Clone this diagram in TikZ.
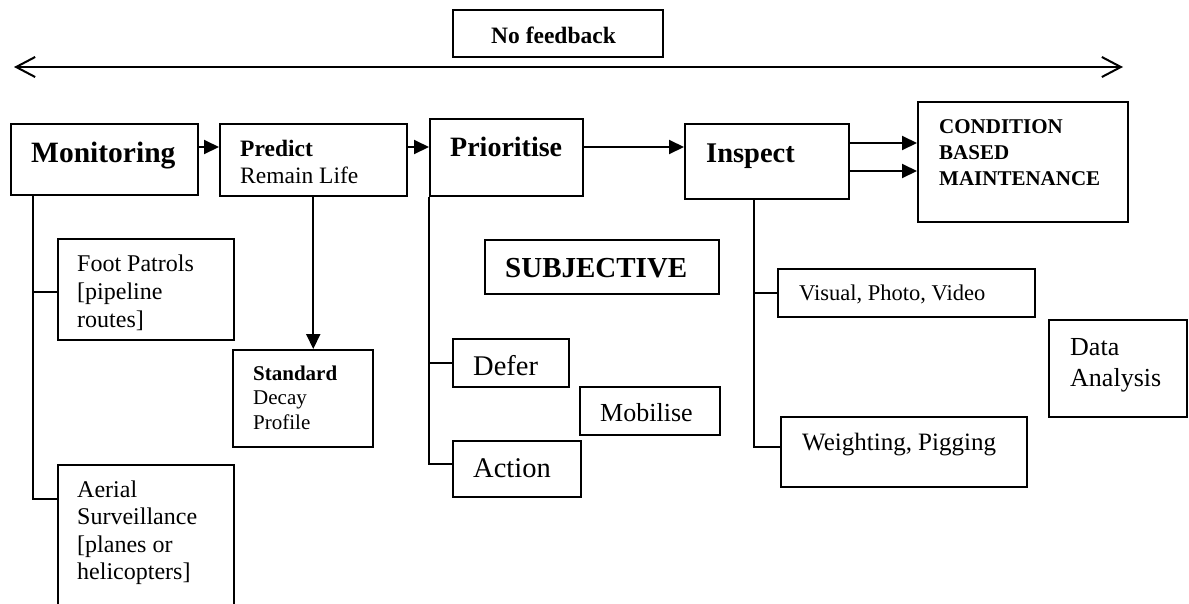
\documentclass[tikz,border=0pt]{standalone}
\usepackage{fontspec}
\setmainfont{Liberation Serif}
\usetikzlibrary{arrows.meta}

\newcommand{\fs}[2]{\fontsize{#1}{#2}\selectfont}
\newcommand{\lines}[1]{\parbox[t]{220pt}{\raggedright #1}}

\begin{document}
\begin{tikzpicture}[x=1pt, y=-1pt,
  frame/.style={draw, line width=1.5pt, inner sep=0pt, anchor=north west},
  txt/.style={anchor=base west, inner sep=0pt},
  arr/.style={line width=2pt, -{Triangle[length=15pt,width=14pt]}},
  treeline/.style={line width=1.5pt},
  feedback/.style={line width=2pt,
    {Straight Barb[length=19pt,width=20pt,line width=2pt]}-{Straight Barb[length=19pt,width=20pt,line width=2pt]}}]

\fill[white] (0,0) rectangle (1189,603);
\useasboundingbox (0,0) rectangle (1189,603);

% feedback banner and double arrow
\node[frame, minimum width=210pt, minimum height=47pt] (nofb) at (452,9) {};
\node[txt, font=\fs{23.5}{27}\bfseries] (nofbT) at (491,43) {No feedback};
\coordinate (fbL) at (14,67);
\coordinate (fbR) at (1123,67);
\draw[feedback] (fbL) -- (fbR);

% main chain
\node[frame, minimum width=187pt, minimum height=71pt] (mon) at (10,123) {};
\node[txt, font=\fs{29.5}{34}\bfseries] (monT) at (31,162) {Monitoring};

\node[frame, minimum width=187pt, minimum height=72pt] (pred) at (219,123) {};
\node[txt] (predT) at (240,156) {\lines{\fs{23.5}{27}\textbf{Predict}\\Remain Life}};

\node[frame, minimum width=153pt, minimum height=77pt] (prio) at (429,118) {};
\node[txt, font=\fs{28}{32}\bfseries] (prioT) at (450,156) {Prioritise};

\node[frame, minimum width=164pt, minimum height=75pt] (insp) at (684,123) {};
\node[txt, font=\fs{28.5}{32}\bfseries] (inspT) at (706,162) {Inspect};

\node[frame, minimum width=210pt, minimum height=120pt] (cbm) at (917,101) {};
\node[txt] (cbmT) at (939,133) {\lines{\fs{21}{26}\bfseries CONDITION\\BASED\\MAINTENANCE}};

\draw[arr] (mon.east |- 0,147) -- (pred.west |- 0,147);
\draw[arr] (pred.east |- 0,147) -- (prio.west |- 0,147);
\draw[arr] (prio.east |- 0,147) -- (insp.west |- 0,147);
\draw[arr] (insp.east |- 0,143) -- (cbm.west |- 0,143);
\draw[arr] (insp.east |- 0,171) -- (cbm.west |- 0,171);

% monitoring branches
\node[frame, minimum width=176pt, minimum height=101pt] (foot) at (57,238) {};
\node[txt] (footT) at (77,271) {\lines{\fs{24}{28}Foot Patrols\\{[}pipeline\\routes]}};

\node[frame, minimum width=176pt, minimum height=150pt] (aer) at (57,464) {};
\node[txt] (aerT) at (77,497) {\lines{\fs{24}{27.5}Aerial\\Surveillance\\{[}planes or\\helicopters]}};

\draw[treeline] (mon.south -| 33,0) |- (foot.west |- 0,292);
\draw[treeline] (mon.south -| 33,0) |- (aer.west |- 0,499);

% decay profile
\node[frame, minimum width=140pt, minimum height=97pt] (std) at (232,349) {};
\node[txt] (stdT) at (253,380) {\lines{\fs{21}{24.5}\textbf{Standard}\\Decay\\Profile}};
\draw[arr] (pred.south) -- (pred.south |- std.north);

% prioritise branches
\node[frame, minimum width=234pt, minimum height=54pt] (subj) at (484,239) {};
\node[txt, font=\fs{29}{33}\bfseries] (subjT) at (505,277) {SUBJECTIVE};

\node[frame, minimum width=116pt, minimum height=48pt] (def) at (452,338) {};
\node[txt, font=\fs{28.5}{32}] (defT) at (473,375) {Defer};

\node[frame, minimum width=140pt, minimum height=48pt] (mob) at (579,386) {};
\node[txt, font=\fs{26}{30}] (mobT) at (600,421) {Mobilise};

\node[frame, minimum width=128pt, minimum height=56pt] (act) at (452,440) {};
\node[txt, font=\fs{28.5}{32}] (actT) at (473,477) {Action};

\draw[treeline] (prio.south west) |- (def.west);
\draw[treeline] (prio.south west) |- (act.west |- 0,464);

% inspect branches
\node[frame, minimum width=257pt, minimum height=48pt] (vis) at (777,268) {};
\node[txt, font=\fs{22.5}{26}] (visT) at (799,300) {Visual, Photo, Video};

\node[frame, minimum width=138pt, minimum height=97pt] (data) at (1048,319) {};
\node[txt] (dataT) at (1070,355) {\lines{\fs{26}{31}Data\\Analysis}};

\node[frame, minimum width=246pt, minimum height=70pt] (wei) at (780,416) {};
\node[txt, font=\fs{25}{29}] (weiT) at (802,450) {Weighting, Pigging};

\draw[treeline] (insp.south -| 754,0) |- (vis.west);
\draw[treeline] (insp.south -| 754,0) |- (wei.west |- 0,447);

\end{tikzpicture}
\end{document}
